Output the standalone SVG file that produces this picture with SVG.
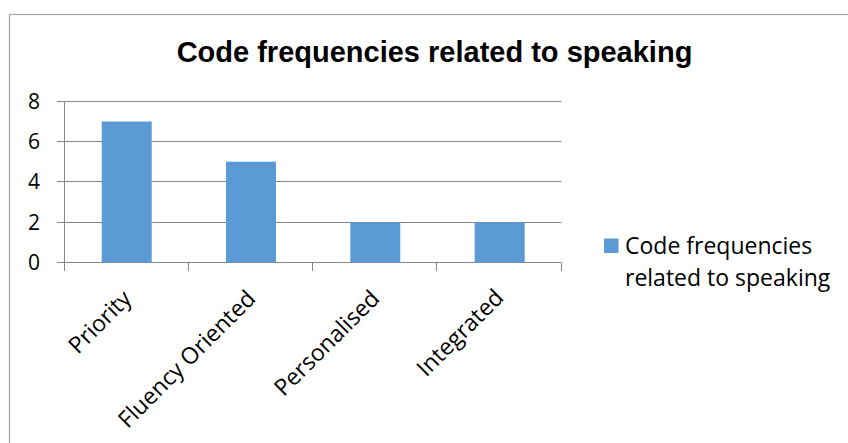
<svg xmlns="http://www.w3.org/2000/svg" width="848" height="443" viewBox="0 0 848 443">
  <style>
    .frame { fill: #ffffff; stroke: #a6a6a6; stroke-width: 1.2; }
    .grid { stroke: #868686; stroke-width: 1; fill: none; }
    .bar { fill: #5b9bd5; }
    .title { font-family: "Liberation Sans", Arial, sans-serif; font-weight: bold; font-size: 29px; fill: #000; }
    .tick { font-family: "Open Sans", "Noto Sans", sans-serif; font-size: 21px; fill: #000; }
    .cat { font-family: "Open Sans", "Noto Sans", sans-serif; font-size: 23px; fill: #000; }
    .legend { font-family: "Open Sans", "Noto Sans", sans-serif; font-size: 23px; fill: #000; }
  </style>

  <rect width="848" height="443" fill="#ffffff"/>
  <!-- chart area frame (runs past the right and bottom edges) -->
  <rect class="frame" x="9.5" y="14.5" width="850" height="440"/>

  <text class="title" x="434.5" y="62" text-anchor="middle">Code frequencies related to speaking</text>

  <!-- gridlines and axes -->
  <g id="axes">
    <path class="grid" d="M57 101.5H561.5 M57 141.5H561.5 M57 181.5H561.5 M57 222.5H561.5 M57 262.5H561.5"/>
    <path class="grid" d="M64.5 101.5V271"/>
    <path class="grid" d="M188.5 262.5V271 M312.5 262.5V271 M436.5 262.5V271 M561.5 262.5V271"/>
    <g class="tick" text-anchor="end">
      <text x="40" y="109">8</text>
      <text x="40" y="149">6</text>
      <text x="40" y="189">4</text>
      <text x="40" y="230">2</text>
      <text x="40" y="270">0</text>
    </g>
  </g>

  <!-- bars -->
  <g id="bar-priority"><rect class="bar" x="101.7" y="121.5" width="50" height="141"/></g>
  <g id="bar-fluency"><rect class="bar" x="226" y="161.7" width="50" height="100.8"/></g>
  <g id="bar-personalised"><rect class="bar" x="350.3" y="222.3" width="50" height="40.2"/></g>
  <g id="bar-integrated"><rect class="bar" x="474.7" y="222.3" width="50" height="40.2"/></g>

  <!-- category labels -->
  <g class="cat" text-anchor="end">
    <text transform="translate(133 300) rotate(-45)">Priority</text>
    <text transform="translate(257 300) rotate(-45)">Fluency Oriented</text>
    <text transform="translate(381 300) rotate(-45)">Personalised</text>
    <text transform="translate(505 299) rotate(-45)">Integrated</text>
  </g>

  <!-- legend -->
  <g id="legend">
    <rect class="bar" x="604" y="238.5" width="14.5" height="14.5"/>
    <text class="legend" x="625" y="253.5">Code frequencies</text>
    <text class="legend" x="625" y="285.5">related to speaking</text>
  </g>
</svg>
